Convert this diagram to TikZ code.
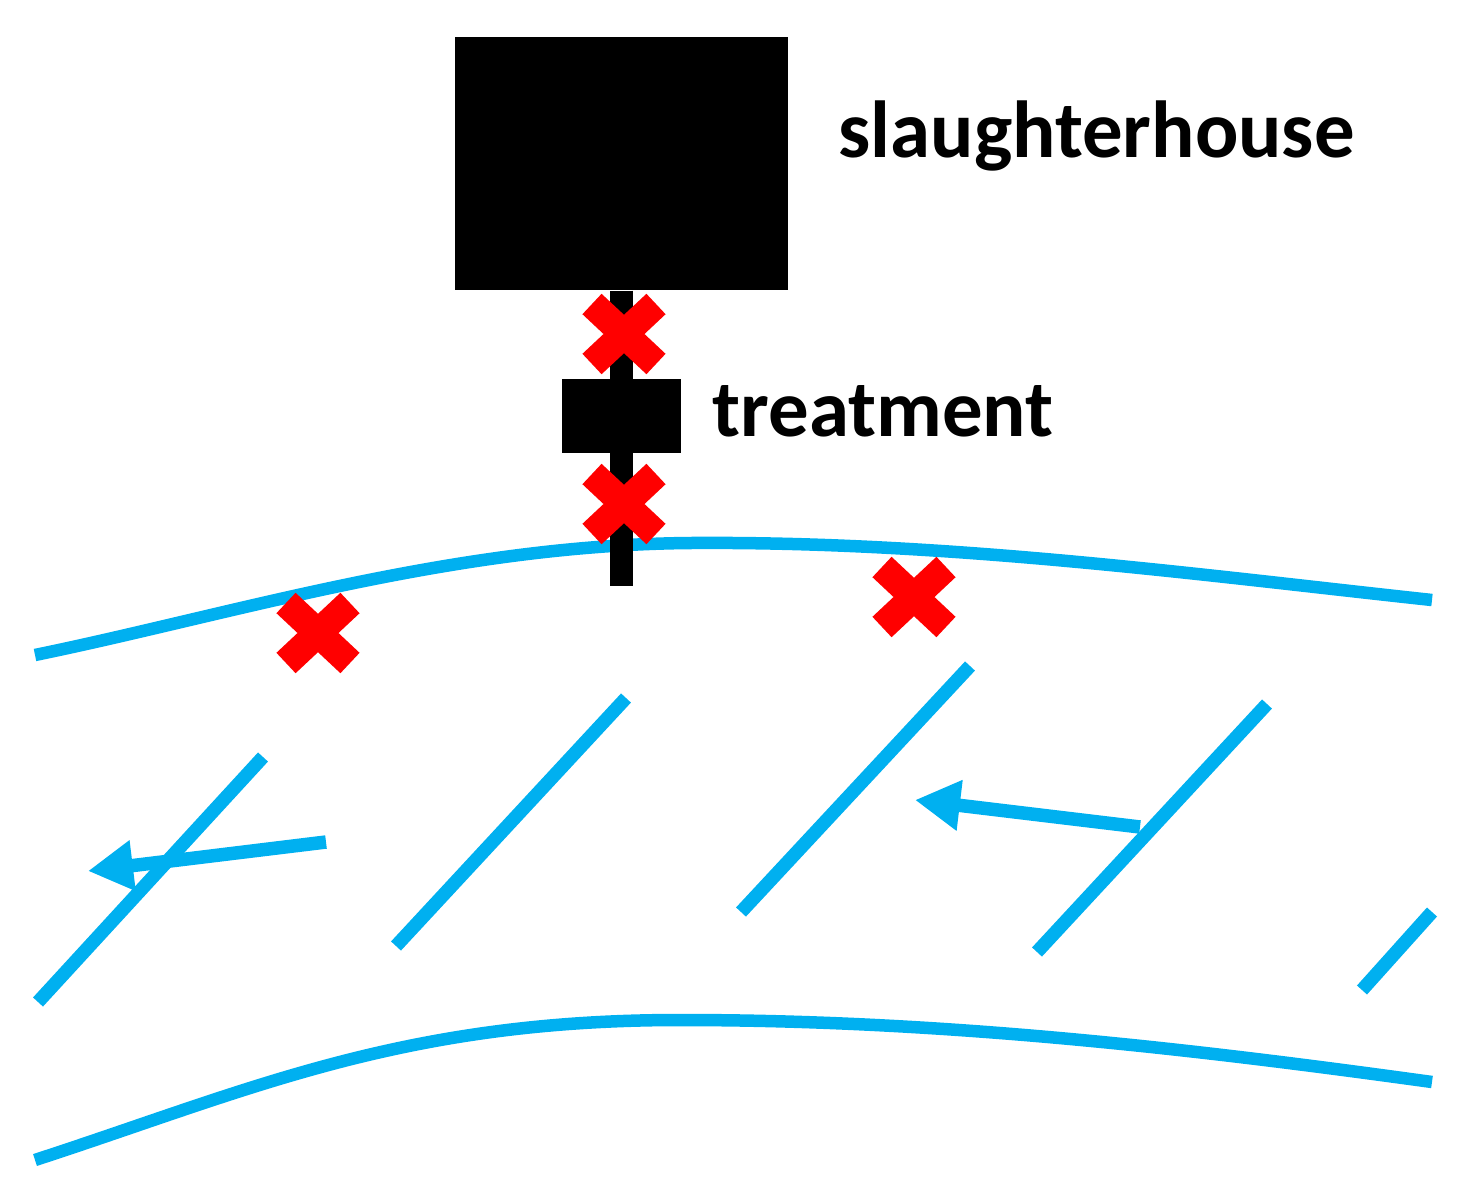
\documentclass[tikz,border=0pt]{standalone}
\usepackage{fontspec}
\setmainfont{Carlito}
\usetikzlibrary{arrows.meta,shapes.misc}
\definecolor{riverblue}{RGB}{0,176,240}
\definecolor{markred}{RGB}{255,0,0}

\begin{document}
\begin{tikzpicture}[x=0.1mm, y=-0.1mm,
    block/.style={fill=black, draw=none, inner sep=0pt},
    label/.style={anchor=base west, inner sep=0pt, font=\fontsize{23}{28}\selectfont\bfseries},
    bank/.style={draw=riverblue, line width=1.25mm},
    ripple/.style={draw=riverblue, line width=1.35mm},
    flow/.style={draw=riverblue, line width=1.35mm, -{Triangle[length=4.5mm,width=4.8mm]}},
    xmark/.style={cross out, draw=markred, line width=2.8mm, minimum width=6.4mm,
      minimum height=6.0mm, inner sep=0pt, outer sep=0pt},
    >=stealth]

  \useasboundingbox (0,0) rectangle (1484,1196);

  % river
  \draw[bank] (35,655) .. controls (230,615) and (450,545) .. (690,543)
              .. controls (950,541) and (1200,575) .. (1432,600);
  \draw[bank] (35,1160) .. controls (250,1090) and (400,1020) .. (680,1020)
              .. controls (950,1020) and (1200,1050) .. (1432,1082);
  \draw[ripple] (263,757) -- (38,1002);
  \draw[ripple] (626,698) -- (396,946);
  \draw[ripple] (970,666) -- (741,912);
  \draw[ripple] (1267,704) -- (1037,952);
  \draw[ripple] (1432,912) -- (1362,990);
  \draw[flow] (326,842) -- (88,871);
  \draw[flow] (1140,827) -- (915,800);

  % buildings
  \node[block, minimum width=33.3mm, minimum height=25.3mm] (house) at (621.5,163.5) {};
  \node[block, minimum width=11.9mm, minimum height=7.4mm] (plant) at (621.5,416) {};
  \coordinate (outfall) at (621.5,586);
  \draw[line width=2.3mm] (house.south) -- (outfall);

  \node[label] (houselabel) at (838,157) {slaughterhouse};
  \node[label] (plantlabel) at (712,436) {treatment};

  % blocked points
  \node[xmark] (x1) at (624,334) {};
  \node[xmark] (x2) at (624,504) {};
  \node[xmark] (x3) at (318,633) {};
  \node[xmark] (x4) at (914,597) {};
\end{tikzpicture}
\end{document}
